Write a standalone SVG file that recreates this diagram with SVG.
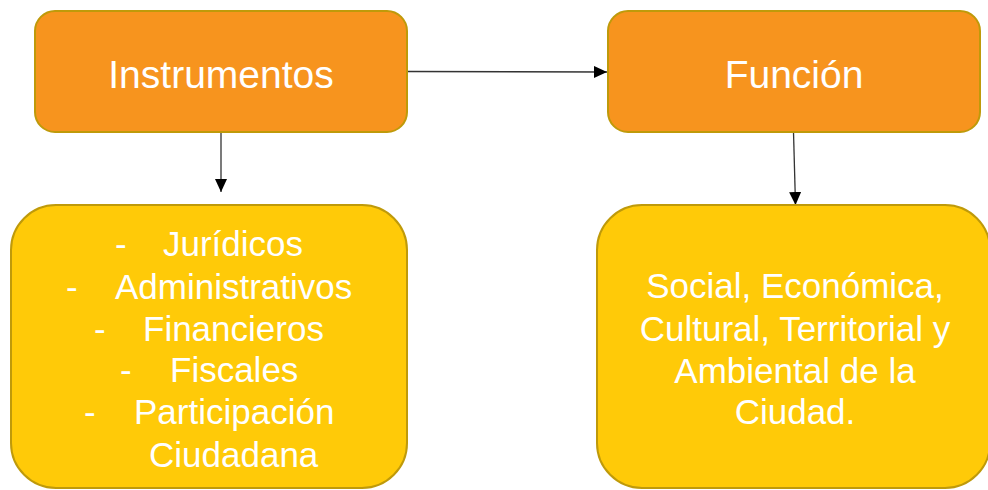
<svg xmlns="http://www.w3.org/2000/svg" width="988" height="490" viewBox="0 0 988 490">
<style>
.top{fill:#F7941E;stroke:#BF9A0A;stroke-width:2}
.bot{fill:#FFCA08;stroke:#BF9A0A;stroke-width:2}
text{font-family:"Liberation Sans",Arial,sans-serif;fill:#FFFFFF}
.t1{font-size:39px}
.t2{font-size:35px}
.edge{stroke:#333;stroke-width:1.3;fill:none}
</style>
<defs>
<marker id="ah" viewBox="0 0 13 12" refX="13" refY="6" markerWidth="13" markerHeight="12" markerUnits="userSpaceOnUse" orient="auto">
<path d="M0,0 L13,6 L0,12 Z" fill="#000"/>
</marker>
</defs>
<rect width="988" height="490" fill="#FFFFFF"/>
<g id="connectors">
<line class="edge" x1="407" y1="71.5" x2="607" y2="72" marker-end="url(#ah)"/>
<line class="edge" x1="221" y1="132" x2="221" y2="192" marker-end="url(#ah)"/>
<line class="edge" x1="793.5" y1="132" x2="795.5" y2="205" marker-end="url(#ah)"/>
</g>
<g id="instrumentos">
<rect class="top" x="35" y="11" width="372" height="121" rx="20"/>
<text class="t1" x="221" y="88" text-anchor="middle">Instrumentos</text>
</g>
<g id="funcion">
<rect class="top" x="608" y="11" width="372" height="121" rx="20"/>
<text class="t1" x="794" y="88" text-anchor="middle">Función</text>
</g>
<g id="lista">
<rect class="bot" x="11" y="205" width="396" height="283" rx="45"/>
<text class="t2" x="115" y="256">-</text><text class="t2" x="163" y="256">Jurídicos</text>
<text class="t2" x="66" y="299">-</text><text class="t2" x="115" y="299">Administrativos</text>
<text class="t2" x="94" y="341">-</text><text class="t2" x="143" y="341">Financieros</text>
<text class="t2" x="120" y="382">-</text><text class="t2" x="170" y="382">Fiscales</text>
<text class="t2" x="84" y="424">-</text><text class="t2" x="134" y="424">Participación</text>
<text class="t2" x="149" y="467">Ciudadana</text>
</g>
<g id="funciones">
<rect class="bot" x="597" y="205" width="393" height="283" rx="45"/>
<text class="t2" x="795" y="298" text-anchor="middle">Social, Económica,</text>
<text class="t2" x="795" y="341" text-anchor="middle">Cultural, Territorial y</text>
<text class="t2" x="795" y="383" text-anchor="middle">Ambiental de la</text>
<text class="t2" x="795" y="424" text-anchor="middle">Ciudad.</text>
</g>
</svg>
